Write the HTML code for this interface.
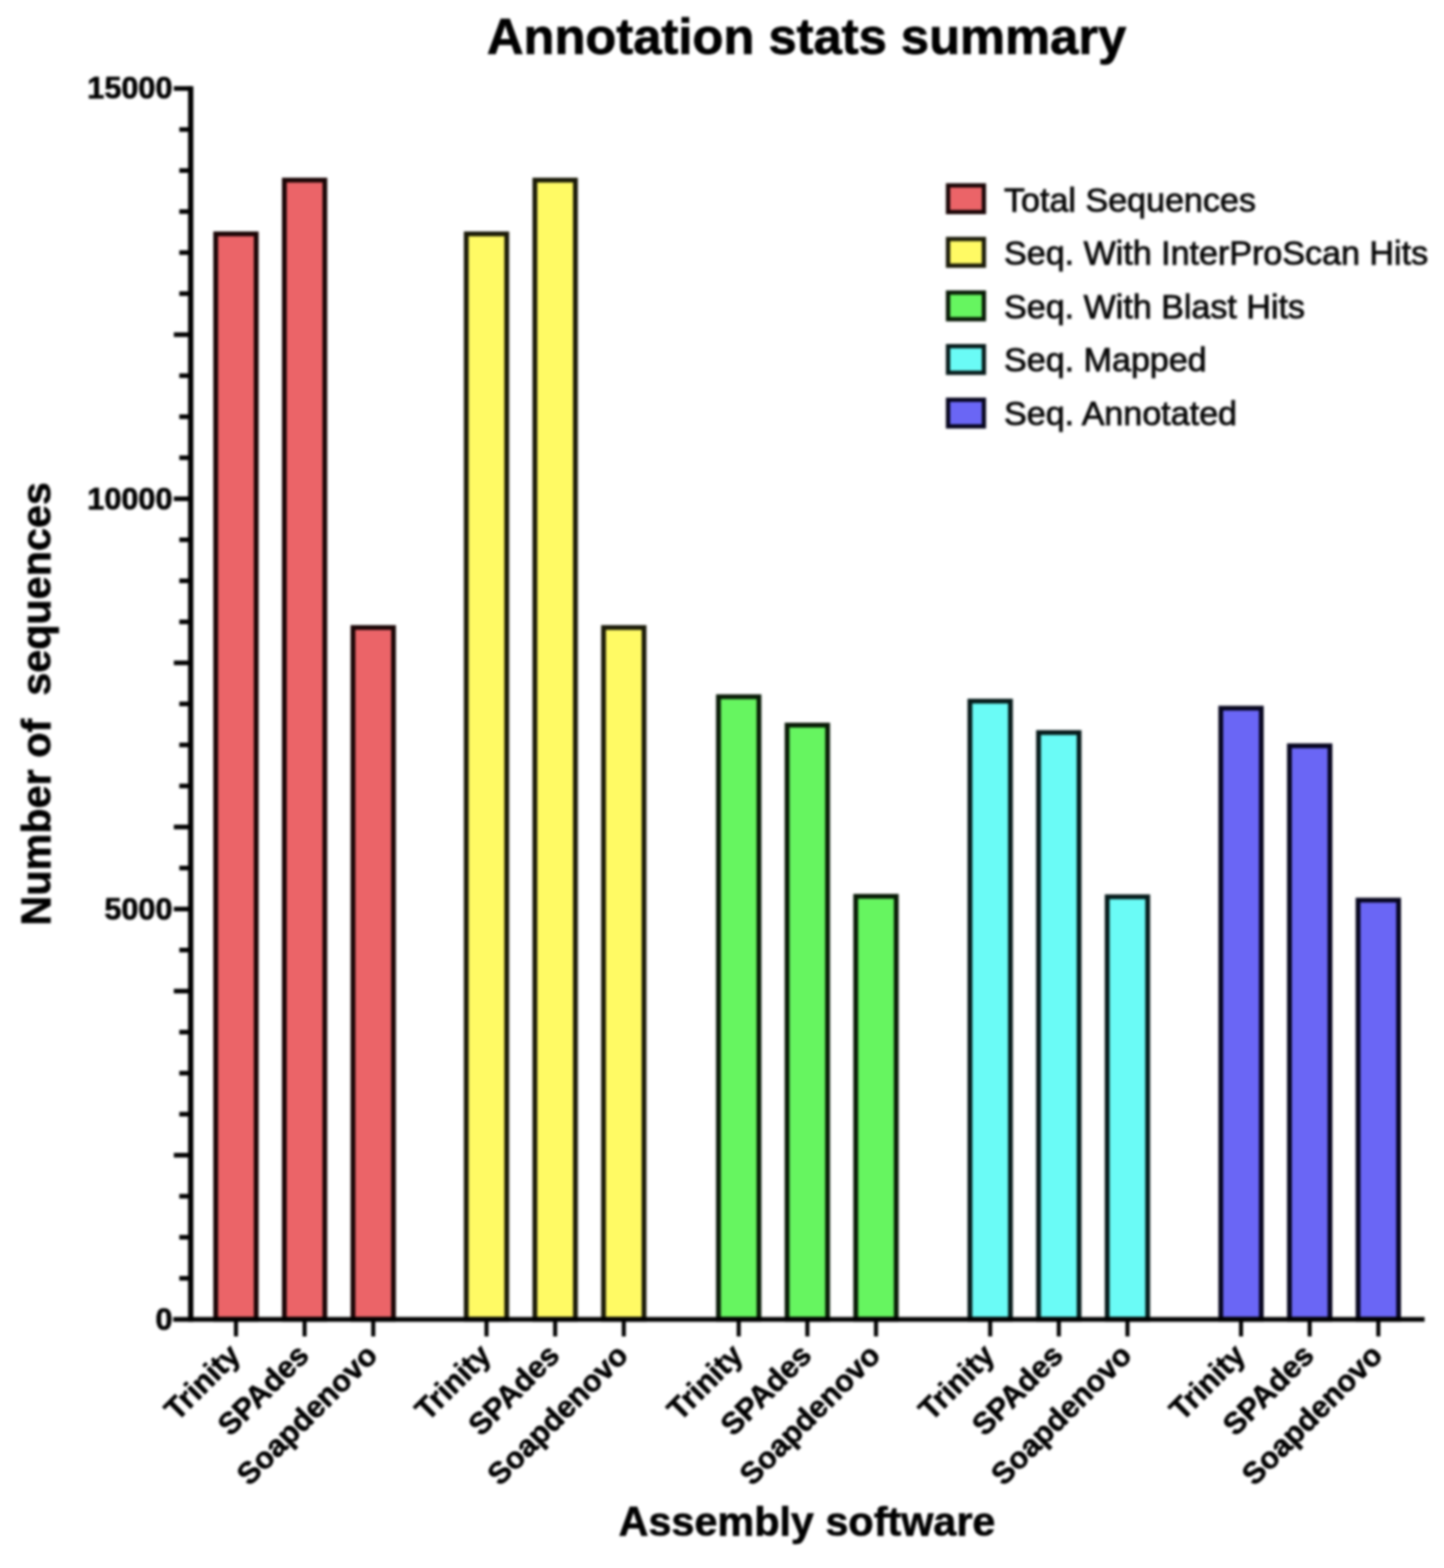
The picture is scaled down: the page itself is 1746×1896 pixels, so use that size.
<!DOCTYPE html>
<html lang="en">
<head>
<meta charset="utf-8">
<title>Annotation stats summary</title>
<style>
html,body{margin:0;padding:0;background:#fff;}
body{width:1746px;height:1896px;overflow:hidden;}
svg{display:block;filter:blur(1.4px);}
text{font-family:"Liberation Sans",sans-serif;fill:#000;}
.b{font-weight:bold;stroke:#000;stroke-width:0.7px;}
</style>
</head>
<body>
<svg role="img" aria-label="Annotation stats summary bar chart" width="1746" height="1896" viewBox="0 0 1746 1896">
<rect width="1746" height="1896" fill="#ffffff"/>
<text class="b" x="975.3" y="65" font-size="61.3" text-anchor="middle" style="stroke-width:0.9px">Annotation stats summary</text>
<g stroke-width="5.8" stroke-linejoin="miter">
<rect x="260.8" y="282.8" width="49" height="1312.5" fill="#EB6468" stroke="#1a0506"/>
<rect x="343.8" y="217.8" width="49" height="1377.5" fill="#EB6468" stroke="#1a0506"/>
<rect x="426.8" y="758.8" width="49" height="836.5" fill="#EB6468" stroke="#1a0506"/>
<rect x="563.75" y="282.8" width="49" height="1312.5" fill="#FFFA64" stroke="#1a1a08"/>
<rect x="646.75" y="217.8" width="49" height="1377.5" fill="#FFFA64" stroke="#1a1a08"/>
<rect x="729.75" y="758.8" width="49" height="836.5" fill="#FFFA64" stroke="#1a1a08"/>
<rect x="868.7" y="842.5" width="49" height="752.8" fill="#66F560" stroke="#081a06"/>
<rect x="951.7" y="876.8" width="49" height="718.5" fill="#66F560" stroke="#081a06"/>
<rect x="1034.7" y="1083.8" width="49" height="511.5" fill="#66F560" stroke="#081a06"/>
<rect x="1172.75" y="847.8" width="49" height="747.5" fill="#6AFBF6" stroke="#061a1a"/>
<rect x="1255.75" y="885.8" width="49" height="709.5" fill="#6AFBF6" stroke="#061a1a"/>
<rect x="1338.75" y="1084.4" width="49" height="510.9" fill="#6AFBF6" stroke="#061a1a"/>
<rect x="1476.1" y="856.3" width="49" height="739" fill="#6A66F5" stroke="#07061f"/>
<rect x="1559.1" y="901.8" width="49" height="693.5" fill="#6A66F5" stroke="#07061f"/>
<rect x="1642.1" y="1088.4" width="49" height="506.9" fill="#6A66F5" stroke="#07061f"/>
</g>
<g stroke="#000" stroke-width="6.4" fill="none">
<line x1="230.6" y1="104.2" x2="230.6" y2="1598.2"/>
<line x1="209.5" y1="1595.3" x2="1722.5" y2="1595.3" stroke-width="5.8"/>
</g>
<g stroke="#000" stroke-width="5.6" fill="none">
<line x1="216.8" y1="1545.69" x2="230.6" y2="1545.69"/>
<line x1="216.8" y1="1496.08" x2="230.6" y2="1496.08"/>
<line x1="216.8" y1="1446.47" x2="230.6" y2="1446.47"/>
<line x1="210.2" y1="1396.86" x2="230.6" y2="1396.86"/>
<line x1="216.8" y1="1347.25" x2="230.6" y2="1347.25"/>
<line x1="216.8" y1="1297.64" x2="230.6" y2="1297.64"/>
<line x1="216.8" y1="1248.03" x2="230.6" y2="1248.03"/>
<line x1="210.2" y1="1198.42" x2="230.6" y2="1198.42"/>
<line x1="216.8" y1="1148.81" x2="230.6" y2="1148.81"/>
<line x1="210.2" y1="1099.2" x2="230.6" y2="1099.2"/>
<line x1="216.8" y1="1049.59" x2="230.6" y2="1049.59"/>
<line x1="210.2" y1="999.98" x2="230.6" y2="999.98"/>
<line x1="216.8" y1="950.37" x2="230.6" y2="950.37"/>
<line x1="216.8" y1="900.76" x2="230.6" y2="900.76"/>
<line x1="216.8" y1="851.15" x2="230.6" y2="851.15"/>
<line x1="210.2" y1="801.54" x2="230.6" y2="801.54"/>
<line x1="216.8" y1="751.93" x2="230.6" y2="751.93"/>
<line x1="216.8" y1="702.32" x2="230.6" y2="702.32"/>
<line x1="216.8" y1="652.71" x2="230.6" y2="652.71"/>
<line x1="210.2" y1="603.1" x2="230.6" y2="603.1"/>
<line x1="216.8" y1="553.49" x2="230.6" y2="553.49"/>
<line x1="216.8" y1="503.88" x2="230.6" y2="503.88"/>
<line x1="216.8" y1="454.27" x2="230.6" y2="454.27"/>
<line x1="210.2" y1="404.66" x2="230.6" y2="404.66"/>
<line x1="216.8" y1="355.05" x2="230.6" y2="355.05"/>
<line x1="216.8" y1="305.44" x2="230.6" y2="305.44"/>
<line x1="216.8" y1="255.83" x2="230.6" y2="255.83"/>
<line x1="216.8" y1="206.22" x2="230.6" y2="206.22"/>
<line x1="216.8" y1="156.61" x2="230.6" y2="156.61"/>
<line x1="210.2" y1="107" x2="230.6" y2="107"/>
<line x1="285.3" y1="1595.3" x2="285.3" y2="1616" stroke-width="4.9"/>
<line x1="368.3" y1="1595.3" x2="368.3" y2="1616" stroke-width="4.9"/>
<line x1="451.3" y1="1595.3" x2="451.3" y2="1616" stroke-width="4.9"/>
<line x1="588.25" y1="1595.3" x2="588.25" y2="1616" stroke-width="4.9"/>
<line x1="671.25" y1="1595.3" x2="671.25" y2="1616" stroke-width="4.9"/>
<line x1="754.25" y1="1595.3" x2="754.25" y2="1616" stroke-width="4.9"/>
<line x1="893.2" y1="1595.3" x2="893.2" y2="1616" stroke-width="4.9"/>
<line x1="976.2" y1="1595.3" x2="976.2" y2="1616" stroke-width="4.9"/>
<line x1="1059.2" y1="1595.3" x2="1059.2" y2="1616" stroke-width="4.9"/>
<line x1="1197.25" y1="1595.3" x2="1197.25" y2="1616" stroke-width="4.9"/>
<line x1="1280.25" y1="1595.3" x2="1280.25" y2="1616" stroke-width="4.9"/>
<line x1="1363.25" y1="1595.3" x2="1363.25" y2="1616" stroke-width="4.9"/>
<line x1="1500.6" y1="1595.3" x2="1500.6" y2="1616" stroke-width="4.9"/>
<line x1="1583.6" y1="1595.3" x2="1583.6" y2="1616" stroke-width="4.9"/>
<line x1="1666.6" y1="1595.3" x2="1666.6" y2="1616" stroke-width="4.9"/>
</g>
<text class="b" x="208.5" y="119.4" font-size="37" text-anchor="end">15000</text>
<text class="b" x="208.5" y="615.5" font-size="37" text-anchor="end">10000</text>
<text class="b" x="208.5" y="1111.6" font-size="37" text-anchor="end">5000</text>
<text class="b" x="208.5" y="1607.7" font-size="37" text-anchor="end">0</text>
<text class="b" font-size="37" text-anchor="end" transform="translate(292.5 1641) rotate(-45)">Trinity</text>
<text class="b" font-size="37" text-anchor="end" transform="translate(375.5 1641) rotate(-45)">SPAdes</text>
<text class="b" font-size="37" text-anchor="end" transform="translate(458.5 1641) rotate(-45)">Soapdenovo</text>
<text class="b" font-size="37" text-anchor="end" transform="translate(595.45 1641) rotate(-45)">Trinity</text>
<text class="b" font-size="37" text-anchor="end" transform="translate(678.45 1641) rotate(-45)">SPAdes</text>
<text class="b" font-size="37" text-anchor="end" transform="translate(761.45 1641) rotate(-45)">Soapdenovo</text>
<text class="b" font-size="37" text-anchor="end" transform="translate(900.4 1641) rotate(-45)">Trinity</text>
<text class="b" font-size="37" text-anchor="end" transform="translate(983.4 1641) rotate(-45)">SPAdes</text>
<text class="b" font-size="37" text-anchor="end" transform="translate(1066.4 1641) rotate(-45)">Soapdenovo</text>
<text class="b" font-size="37" text-anchor="end" transform="translate(1204.45 1641) rotate(-45)">Trinity</text>
<text class="b" font-size="37" text-anchor="end" transform="translate(1287.45 1641) rotate(-45)">SPAdes</text>
<text class="b" font-size="37" text-anchor="end" transform="translate(1370.45 1641) rotate(-45)">Soapdenovo</text>
<text class="b" font-size="37" text-anchor="end" transform="translate(1507.8 1641) rotate(-45)">Trinity</text>
<text class="b" font-size="37" text-anchor="end" transform="translate(1590.8 1641) rotate(-45)">SPAdes</text>
<text class="b" font-size="37" text-anchor="end" transform="translate(1673.8 1641) rotate(-45)">Soapdenovo</text>
<text class="b" font-size="50" text-anchor="middle" transform="translate(61 851) rotate(-90)" xml:space="preserve" style="white-space:pre">Number of  sequences</text>
<text class="b" x="975.8" y="1857" font-size="50" text-anchor="middle">Assembly software</text>
<rect x="1146.3" y="224.2" width="43.4" height="32.2" fill="#EB6468" stroke="#1a0506" stroke-width="5.2"/>
<text x="1214" y="255.6" font-size="41.2" fill="#222" stroke="#222" stroke-width="1.1">Total Sequences</text>
<rect x="1146.3" y="289" width="43.4" height="32.2" fill="#FFFA64" stroke="#1a1a08" stroke-width="5.2"/>
<text x="1214" y="320.1" font-size="41.2" fill="#222" stroke="#222" stroke-width="1.1">Seq. With InterProScan Hits</text>
<rect x="1146.3" y="353.8" width="43.4" height="32.2" fill="#66F560" stroke="#081a06" stroke-width="5.2"/>
<text x="1214" y="384.6" font-size="41.2" fill="#222" stroke="#222" stroke-width="1.1">Seq. With Blast Hits</text>
<rect x="1146.3" y="418.6" width="43.4" height="32.2" fill="#6AFBF6" stroke="#061a1a" stroke-width="5.2"/>
<text x="1214" y="449.1" font-size="41.2" fill="#222" stroke="#222" stroke-width="1.1">Seq. Mapped</text>
<rect x="1146.3" y="483.4" width="43.4" height="32.2" fill="#6A66F5" stroke="#07061f" stroke-width="5.2"/>
<text x="1214" y="513.6" font-size="41.2" fill="#222" stroke="#222" stroke-width="1.1">Seq. Annotated</text>
</svg>
</body>
</html>
